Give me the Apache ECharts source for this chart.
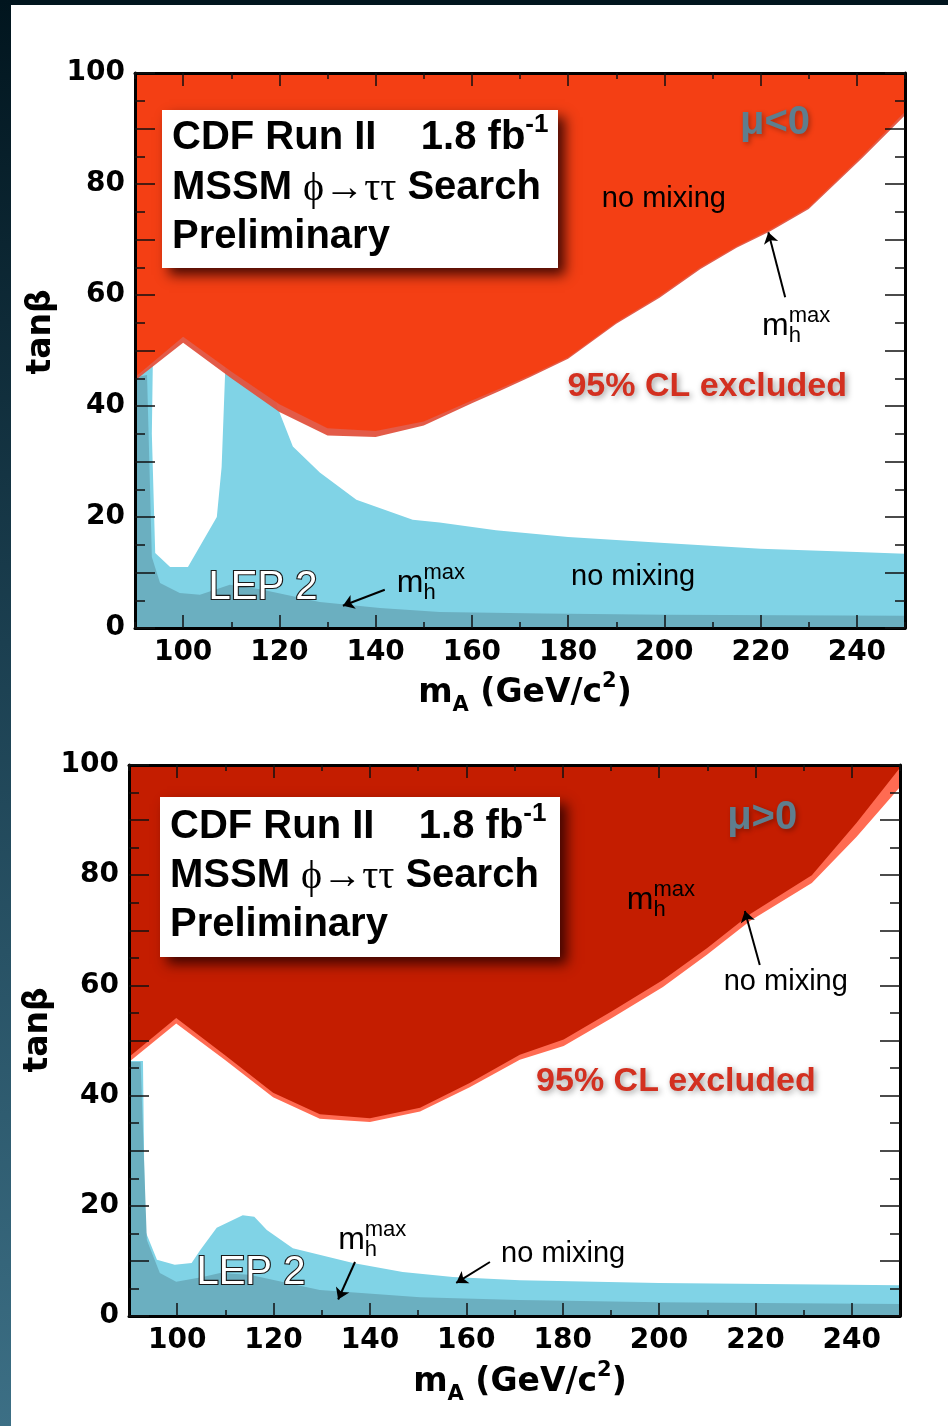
<!DOCTYPE html>
<html>
<head>
<meta charset="utf-8">
<script src="https://cdn.jsdelivr.net/npm/echarts@6/dist/echarts.min.js"></script>
<style>
html,body{margin:0;padding:0;background:#fff;}
#c{width:948px;height:1426px;}
</style>
</head>
<body>
<div id="c"></div>
<script>
// ---- axes ----
const massMin = 90, massMax = 250;
const massMajorTicks = [100, 120, 140, 160, 180, 200, 220, 240];
const massMinorTicks = [90, 110, 130, 150, 170, 190, 210, 230, 250];
const tanbMin = 0, tanbMax = 100;
const tanbLabels = [0, 20, 40, 60, 80, 100];

// ---- mu < 0 : CDF 95% CL excluded, lower edge of the region ----
const negNoMixing = [[90,45.2],[100,52.5],[110,46.2],[120,40.3],[130,36.0],[140,35.5],[150,37.2],[160,41.0],[166,43.2],[172,45.5],[180,48.8],[190,55.1],[199,59.8],[207.5,65.0],[215,68.8],[222,71.8],[230,75.8],[241,85.0],[250,93.0]];
const negMhmax    = [[90,44.6],[100,51.4],[110,45.0],[120,38.9],[130,34.7],[140,34.4],[150,36.5],[160,40.5],[166,42.8],[172,45.2],[180,48.5],[190,54.8],[199,59.5],[207.5,64.7],[215,68.5],[222,71.5],[230,75.5],[241,84.6],[250,92.4]];
// ---- mu < 0 : LEP 2 excluded ----
const negLepNoMixing = [[90,0],[90,45.2],[93.7,47.5],[93.5,35],[94.2,13.5],[97.3,11],[101,11],[107,20],[108,29],[108.7,45.3],[109,56.8],[116.6,56.8],[119.5,40],[122.8,32.7],[128.4,28],[136,23.1],[147.7,19.5],[153.3,19],[165,17.6],[180,16.4],[200,15.3],[220,14.3],[240,13.7],[250,13.4],[250,0]];
const negLepMhmax    = [[90,0],[90,45.2],[92.5,45.6],[93.5,12.8],[95.2,8.1],[99.3,6.3],[103.5,6.0],[109.7,7.8],[116,7.0],[128.4,4.7],[140.9,3.6],[153.3,2.9],[175,2.6],[200,2.4],[250,2.2],[250,0]];

// ---- mu > 0 : CDF 95% CL excluded, lower edge of the region ----
const posMhmax    = [[90,47.0],[99.8,54.1],[110,47.3],[119.9,40.5],[129.6,36.6],[140,35.9],[150.4,37.8],[160.7,42.3],[171.1,47.4],[180.2,50.2],[190.2,55.3],[200.8,61.0],[210,66.8],[219,73.0],[231.7,80.0],[241,89.5],[250,99.5]];
const posNoMixing = [[90,46.1],[99.8,53.1],[110,46.4],[119.9,39.7],[129.6,35.8],[140,35.2],[150.4,37.1],[160.7,41.5],[171.1,46.5],[180.2,49.0],[190.2,54.1],[200.8,59.7],[210,65.6],[219,71.8],[231.7,78.6],[241,87.0],[250,96.0]];
// ---- mu > 0 : LEP 2 excluded ----
const posLepNoMixing = [[90,0],[90,46.3],[92.9,46.3],[93.3,15.6],[95.8,10.2],[99.5,9.3],[103,9.6],[104.8,12],[108.2,16],[113.6,18.3],[116,18],[118.6,15.6],[124,12.3],[136.5,9.6],[146.8,8],[157.2,7.1],[171.1,6.5],[200,6.0],[250,5.6],[250,0]];
const posLepMhmax    = [[90,0],[90,46.1],[92.4,46.1],[93.7,13.8],[96.4,7.8],[99.8,6.2],[105.3,7.1],[108.9,7.8],[115,7.5],[129.6,4.7],[150.4,3.4],[171,2.9],[200,2.5],[250,2.2],[250,0]];

// ---- fonts / colours ----
const SANS = '"Liberation Sans", Arial, Helvetica, sans-serif';
const DEJ = '"DejaVu Sans", Verdana, sans-serif';
const SERIF = '"Liberation Serif", "Times New Roman", serif';
const CYAN = '#80D3E6', TEAL = '#6BAFC0';

const measureCtx = document.createElement('canvas').getContext('2d');
function textWidth(t, font) { measureCtx.font = font; return measureCtx.measureText(t).width; }

// lay out a row of text runs (sub/superscripts via dy, "stay" = no advance)
function runElements(parts, align, ox, oy, extra) {
  const xs = [];
  let cur = 0;
  parts.forEach(p => { xs.push(cur); if (!p.stay) cur += textWidth(p.t, p.f) + (p.gap || 0); });
  const start = align === 'center' ? -cur / 2 : 0;
  return parts.map((p, i) => Object.assign({
    type: 'text',
    x: ox + start + xs[i],
    y: oy + (p.dy || 0),
    style: Object.assign({
      text: p.t, font: p.f, fill: p.fill || '#000',
      align: 'left', verticalAlign: 'middle'
    }, p.style || {})
  }, extra || {}));
}

// ---- annotation texts (anchored in data coordinates) ----
const mh = (size) => [
  { t: 'm', f: `${size}px ${SANS}` },
  { t: 'h', f: `${Math.round(size * 0.68)}px ${SANS}`, dy: size * 0.3, stay: true },
  { t: 'max', f: `${Math.round(size * 0.68)}px ${SANS}`, dy: -size * 0.32 }
];
const noMix = [{ t: 'no mixing', f: `29px ${SANS}` }];
const clText = (c) => [{ t: '95% CL excluded', f: `bold 34px ${SANS}`, fill: c,
  style: { textShadowColor: 'rgba(0,0,0,0.4)', textShadowBlur: 6, textShadowOffsetX: 2, textShadowOffsetY: 2 } }];
const muText = (t) => [{ t: t, f: `bold 40px ${SANS}`, fill: '#5E7E8E',
  style: { textShadowColor: 'rgba(0,0,0,0.3)', textShadowBlur: 5, textShadowOffsetX: 2, textShadowOffsetY: 2 } }];
const lepText = [{ t: 'LEP 2', f: `40px ${SANS}`, fill: '#fff', style: { stroke: '#1a1a1a', lineWidth: 2.2 } }];

const negNotes = [
  { at: [199.9, 77.3], parts: noMix, align: 'center' },
  { at: [220.3, 54.3], parts: mh(32), align: 'left' },
  { at: [208.9, 43.5], parts: clText('#D33020'), align: 'center' },
  { at: [223.0, 91.0], parts: muText('μ<0'), align: 'center' },
  { at: [116.6, 7.2], parts: lepText, align: 'center' },
  { at: [144.4, 8.1], parts: mh(32), align: 'left' },
  { at: [193.5, 9.2], parts: noMix, align: 'center' }
];
const posNotes = [
  { at: [221.4, 90.4], parts: muText('μ>0'), align: 'center' },
  { at: [193.3, 75.5], parts: mh(32), align: 'left' },
  { at: [226.3, 60.6], parts: noMix, align: 'center' },
  { at: [203.5, 42.5], parts: clText('#D33020'), align: 'center' },
  { at: [115.3, 7.8], parts: lepText, align: 'center' },
  { at: [133.4, 13.8], parts: mh(32), align: 'left' },
  { at: [180.1, 11.3], parts: noMix, align: 'center' }
];
const negArrows = [ [[225.1, 59.6], [221.6, 71.3]], [[141.9, 6.9], [133.2, 4.0]] ];
const posArrows = [ [[220.9, 63.7], [217.8, 73.5]], [[136.9, 9.8], [133.4, 3.0]], [[164.9, 9.8], [157.9, 6.0]] ];

// ---- series builders ----
function region(gi, pts, fill, z, opacity) {
  return {
    type: 'custom', xAxisIndex: gi * 4, yAxisIndex: gi * 2, z: z, silent: true, clip: true,
    data: [[pts[0][0], pts[0][1]]],
    renderItem: (params, api) => ({
      type: 'polygon',
      shape: { points: pts.map(p => api.coord(p)) },
      style: { fill: fill, opacity: opacity == null ? 1 : opacity }
    })
  };
}
function excluded(gi, edge, fill, z, opacity) {
  return region(gi, edge.concat([[massMax, tanbMax], [massMin, tanbMax]]), fill, z, opacity);
}
function notes(gi, list) {
  return {
    type: 'custom', xAxisIndex: gi * 4, yAxisIndex: gi * 2, z: 30, silent: true, clip: false,
    data: list.map(n => n.at),
    renderItem: (params, api) => {
      const n = list[params.dataIndex];
      const c = api.coord([api.value(0), api.value(1)]);
      return { type: 'group', children: runElements(n.parts, n.align, c[0], c[1]) };
    }
  };
}
function arrows(gi, list) {
  return {
    type: 'lines', coordinateSystem: 'cartesian2d', xAxisIndex: gi * 4, yAxisIndex: gi * 2, z: 30, silent: true,
    symbol: ['none', 'arrow'], symbolSize: [0, 11],
    lineStyle: { color: '#000', width: 2, opacity: 1 },
    data: list.map(a => ({ coords: a }))
  };
}

// ---- axes ----
const TICK = '#111';
function xAxes(gi) {
  const base = { gridIndex: gi, type: 'value', min: massMin, max: massMax, z: 10, splitLine: { show: false } };
  const mk = (pos, major, withLine, withLabel) => Object.assign({}, base, {
    position: pos,
    axisLine: { show: withLine, onZero: false, lineStyle: { color: '#000', width: 3 } },
    axisTick: { show: true, inside: true, length: major ? 13 : 6, customValues: major ? massMajorTicks : massMinorTicks,
      lineStyle: { color: TICK, width: 1.5 } },
    axisLabel: withLabel ? { show: true, customValues: massMajorTicks, margin: 11,
      fontFamily: DEJ, fontWeight: 'bold', fontSize: 28, color: '#000' } : { show: false }
  });
  return [mk('bottom', true, true, true), mk('bottom', false, false, false), mk('top', true, true, false), mk('top', false, false, false)];
}
function yAxes(gi) {
  const mk = (pos, withLabel) => ({
    gridIndex: gi, type: 'value', position: pos, min: tanbMin, max: tanbMax, interval: 10, z: 10,
    splitLine: { show: false },
    axisLine: { show: true, onZero: false, lineStyle: { color: '#000', width: 3 } },
    axisTick: { show: true, inside: true, length: 20, lineStyle: { color: TICK, width: 1.5 } },
    minorTick: { show: true, splitNumber: 2, length: 10, lineStyle: { color: TICK, width: 1.5 } },
    axisLabel: withLabel ? {
      show: true, margin: 10, fontFamily: DEJ, fontWeight: 'bold', fontSize: 28, color: '#000',
      formatter: v => (tanbLabels.indexOf(v) >= 0 ? String(v) : '')
    } : { show: false }
  });
  return [mk('left', true), mk('right', false)];
}

// ---- fixed decorations: page frame, info boxes, axis titles ----
const BOLD40 = `bold 40px ${SANS}`;
function infoBox(x, y, w, h, lineY) {
  const els = [{
    type: 'rect', shape: { x: x, y: y, width: w, height: h }, z: 40,
    style: { fill: '#fff', shadowBlur: 12, shadowColor: 'rgba(40,0,0,0.85)', shadowOffsetX: 7, shadowOffsetY: 7 }
  }];
  const lines = [
    [{ t: 'CDF Run II    1.8 fb', f: BOLD40 }, { t: '-1', f: `bold 26px ${SANS}`, dy: -13 }],
    [{ t: 'MSSM ', f: BOLD40 }, { t: 'ϕ→ττ', f: `40px ${SERIF}`, dy: 1 }, { t: ' Search', f: BOLD40 }],
    [{ t: 'Preliminary', f: BOLD40 }]
  ];
  lines.forEach((ln, i) => runElements(ln, 'left', x + 10, y + lineY[i], { z: 41 }).forEach(e => els.push(e)));
  return els;
}
function xTitle(cx, cy) {
  const F = `bold 33px ${DEJ}`, S = `bold 21px ${DEJ}`;
  return runElements([
    { t: 'm', f: F }, { t: 'A', f: S, dy: 13 }, { t: ' (GeV/c', f: F }, { t: '2', f: S, dy: -11 }, { t: ')', f: F }
  ], 'center', cx, cy, { z: 41 });
}
function yTitle(cx, cy) {
  return {
    type: 'text', x: cx, y: cy, rotation: Math.PI / 2, z: 41,
    style: { text: 'tanβ', font: `bold 33px ${DEJ}`, fill: '#000', align: 'center', verticalAlign: 'middle' }
  };
}

const graphics = [
  { type: 'rect', shape: { x: 0, y: 0, width: 948, height: 5 }, style: { fill: '#01151E' }, z: 50 },
  { type: 'rect', shape: { x: 0, y: 0, width: 11, height: 1426 }, z: 50,
    style: { fill: new echarts.graphic.LinearGradient(0, 0, 0, 1, [
      { offset: 0, color: '#01151E' }, { offset: 0.45, color: '#1B3F50' }, { offset: 1, color: '#3C6F85' }]) } }
].concat(
  infoBox(162, 110, 396, 158, [28, 78, 127]),
  infoBox(160, 797, 400, 160, [30, 79, 128]),
  xTitle(525, 693), [yTitle(41, 332)],
  xTitle(520, 1382), [yTitle(38, 1030)]
);

const option = {
  animation: false,
  backgroundColor: '#fff',
  grid: [
    { left: 135, top: 73, width: 770, height: 555 },
    { left: 129, top: 765, width: 771, height: 551 }
  ],
  xAxis: xAxes(0).concat(xAxes(1)),
  yAxis: yAxes(0).concat(yAxes(1)),
  graphic: graphics,
  series: [
    // mu < 0
    region(0, negLepNoMixing, CYAN, 2),
    region(0, negLepMhmax, TEAL, 3),
    excluded(0, negMhmax, '#E2523E', 4, 0.95),
    excluded(0, negNoMixing, '#F53D10', 5, 0.93),
    arrows(0, negArrows),
    notes(0, negNotes),
    // mu > 0
    region(1, posLepNoMixing, CYAN, 2),
    region(1, posLepMhmax, TEAL, 3),
    excluded(1, posNoMixing, '#FF6B52', 4),
    excluded(1, posMhmax, '#C41D00', 5),
    arrows(1, posArrows),
    notes(1, posNotes)
  ]
};

const chart = echarts.init(document.getElementById('c'), null, { renderer: 'canvas', width: 948, height: 1426 });
chart.setOption(option);
</script>
</body>
</html>
